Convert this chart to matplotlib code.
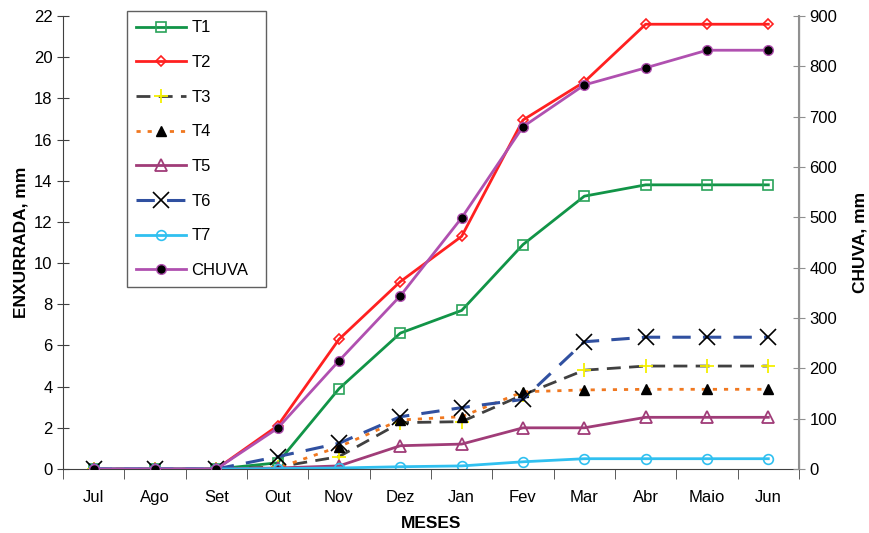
import matplotlib.pyplot as plt
import numpy as np

plt.rcParams['font.family'] = ['Liberation Sans', 'DejaVu Sans']

meses = ["Jul", "Ago", "Set", "Out", "Nov", "Dez", "Jan", "Fev", "Mar", "Abr", "Maio", "Jun"]
t1 = [0, 0, 0, 0.3, 3.9, 6.6, 7.7, 10.9, 13.25, 13.8, 13.8, 13.8]
t2 = [0, 0, 0, 2.1, 6.3, 9.1, 11.3, 16.95, 18.8, 21.6, 21.6, 21.6]
t3 = [0, 0, 0, 0.1, 0.6, 2.25, 2.3, 3.6, 4.8, 5.0, 5.0, 5.0]
t4 = [0, 0, 0, 0.05, 1.08, 2.38, 2.54, 3.75, 3.84, 3.87, 3.87, 3.87]
t5 = [0, 0, 0, 0.05, 0.15, 1.13, 1.21, 2.0, 2.0, 2.51, 2.51, 2.51]
t6 = [0, 0, 0, 0.6, 1.25, 2.54, 2.98, 3.38, 6.18, 6.4, 6.4, 6.4]
t7 = [0, 0, 0, 0.02, 0.05, 0.11, 0.15, 0.35, 0.5, 0.5, 0.5, 0.5]
chuva = [0, 0, 0, 81, 215, 344, 499, 680, 763, 797, 832, 832]

x = np.arange(len(meses))

fig = plt.figure(figsize=(8.7, 5.33), dpi=100)
ax = fig.add_axes([63/870, 1-469/533, (799-63)/870, (469-16)/533])
ax2 = ax.twinx()

lines = []
lines += ax.plot(x, t1, color='#119447', lw=2, marker='s', ms=7.5, mfc='none', mec='#2aa35a', mew=1.2, label='T1')
lines += ax.plot(x, t2, color='#ff2020', lw=2, marker='D', ms=5.5, mfc='none', mec='#ff2020', mew=1.2, label='T2')
lines += ax.plot(x, t3, color='#404040', lw=2, ls=(0, (5, 3)), marker='+', ms=10, mec='#f5f000', mew=1.3, label='T3')
lines += ax.plot(x, t4, color='#f07820', lw=2, ls=(0, (1.5, 2.5)), marker='^', ms=7, mfc='black', mec='black', label='T4')
lines += ax.plot(x, t5, color='#a03c78', lw=2, marker='^', ms=8, mfc='none', mec='#a03c78', mew=1.3, label='T5')
lines += ax.plot(x, t6, color='#3050a0', lw=2.2, ls=(0, (6, 4)), marker='x', ms=11, mec='black', mew=1.2, label='T6')
lines += ax.plot(x, t7, color='#30c0f0', lw=2, marker='o', ms=7, mfc='none', mec='#30c0f0', mew=1.2, label='T7')
lines += ax2.plot(x, chuva, color='#b050b0', lw=2, marker='o', ms=7, mfc='black', mec='#b050b0', mew=1, label='CHUVA')

ax.set_xlim(-0.5, len(meses) - 0.5)
ax.set_ylim(0, 22)
ax2.set_ylim(0, 900)
ax.set_yticks(np.arange(0, 23, 2))
ax2.set_yticks(np.arange(0, 901, 100))
ax.set_xticks(x)
ax.set_xticklabels(meses)
ax.set_xticks(np.arange(-0.5, len(meses), 1), minor=True)
ax.tick_params(axis='x', which='major', length=0, pad=15, labelsize=12)
ax.tick_params(axis='x', which='minor', length=7, direction='out', color='#404040')
ax.tick_params(axis='y', length=8, direction='inout', color='#404040', labelsize=12)
ax2.tick_params(axis='y', length=8, direction='inout', color='#909090', labelsize=12)

ax.spines['top'].set_visible(False)
ax2.spines['top'].set_visible(False)
ax.spines['left'].set_color('#404040')
ax.spines['bottom'].set_color('#404040')
ax2.spines['left'].set_visible(False)
ax2.spines['bottom'].set_visible(False)
ax2.spines['right'].set_color('#909090')
ax2.spines['right'].set_linewidth(1.5)

ax.set_xlabel('MESES', fontsize=12.5, fontweight='bold', labelpad=8)
ax.set_ylabel('ENXURRADA, mm', fontsize=12.5, fontweight='bold', labelpad=4)
ax2.set_ylabel('CHUVA, mm', fontsize=12.5, fontweight='bold', labelpad=11)

leg = fig.legend(handles=lines, loc='upper left',
                 bbox_to_anchor=(127/870, 1-285/533, 139/870, 274/533), mode='expand',
                 fontsize=12, handlelength=3.0, labelspacing=1.18, borderpad=0.56,
                 fancybox=False, framealpha=1, edgecolor='#606060', handletextpad=0.3,
                 borderaxespad=0)
leg.get_frame().set_linewidth(1)

fig.savefig('out.png', dpi=100)
